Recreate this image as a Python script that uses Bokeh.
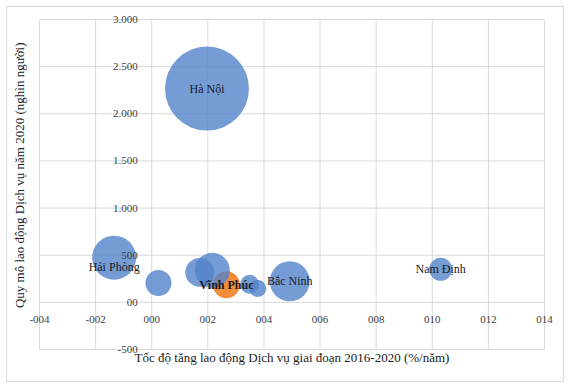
from bokeh.plotting import figure
from bokeh.models import ColumnDataSource, Range1d, Title
from bokeh.core.properties import value
from bokeh.embed import file_html
from bokeh.resources import INLINE

# ---- data ----
provinces = ["Hà Nội", "Hải Phòng", "Tỉnh A", "Tỉnh B", "Vĩnh Phúc", "Tỉnh C",
             "Tỉnh D", "Tỉnh E", "Bắc Ninh", "Nam Định"]
growth = [0.0197, -0.0134, 0.0024, 0.0171, 0.0266, 0.0216, 0.0349, 0.0378, 0.0492, 0.1030]
labour = [2267, 474, 205, 318, 186, 339, 191, 148, 223, 350]
bubble_value = [1000, 274, 96, 119, 103, 174, 51, 41, 227, 75]
labelled = ["Hà Nội", "Hải Phòng", "Vĩnh Phúc", "Bắc Ninh", "Nam Định"]
highlight = "Vĩnh Phúc"

x_ticks = [-0.04, -0.02, 0.0, 0.02, 0.04, 0.06, 0.08, 0.10, 0.12, 0.14]
x_tick_labels = ["-004", "-002", "000", "002", "004", "006", "008", "010", "012", "014"]
y_ticks = [-500, 0, 500, 1000, 1500, 2000, 2500, 3000]
y_tick_labels = ["-500", "00", "500", "1.000", "1.500", "2.000", "2.500", "3.000"]

x_title = "Tốc độ tăng lao động Dịch vụ giai đoạn 2016-2020 (%/năm)"
y_title = "Quy mô lao động Dịch vụ năm 2020 (nghìn người)"

# ---- styling / layout ----
FONT = "Liberation Serif"
BLUE = "#5283C9"
ORANGE = "#F0822A"
GRID = "#D9D9D9"
MAX_DIAM = 84
GRID_W, GRID_H = 505, 330      # pixel size of the gridded area
PAD_X, PAD_Y = 12, 7           # extra frame room so edge tick labels are not clipped

x0, x1 = x_ticks[0], x_ticks[-1]
y0, y1 = y_ticks[0], y_ticks[-1]
px = (x1 - x0) / GRID_W * PAD_X
py = (y1 - y0) / GRID_H * PAD_Y

colors = [ORANGE if n == highlight else BLUE for n in provinces]
alphas = [0.92 if n == highlight else 0.8 for n in provinces]
diam = [MAX_DIAM * (v / max(bubble_value)) ** 0.5 for v in bubble_value]

src = ColumnDataSource(dict(x=growth, y=labour, name=provinces, c=colors, a=alphas, d=diam))

p = figure(width=558, height=376, output_backend="svg", toolbar_location=None,
           x_range=Range1d(x0 - px, x1 + px), y_range=Range1d(y0 - py, y1 + py),
           min_border_left=20, min_border_right=9, min_border_top=5, min_border_bottom=27)
p.styles = {"border": "1px solid #D9D9D9", "margin-left": "6px", "margin-top": "6px"}
p.background_fill_color = "white"
p.outline_line_color = None
p.grid.visible = False

# grid lines limited to the tick extent
p.segment(x0=x_ticks, y0=[y0] * len(x_ticks), x1=x_ticks, y1=[y1] * len(x_ticks),
          line_color=GRID, line_width=1)
p.segment(x0=[x0] * len(y_ticks), y0=y_ticks, x1=[x1] * len(y_ticks), y1=y_ticks,
          line_color=GRID, line_width=1)

p.scatter("x", "y", size="d", source=src, fill_color="c", fill_alpha="a", line_color=None)

lab_norm = [i for i, n in enumerate(provinces) if n in labelled and n != highlight]
lab_bold = [i for i, n in enumerate(provinces) if n == highlight]
dy = {"Hải Phòng": 9}
for idxs, style in ((lab_norm, "normal"), (lab_bold, "bold")):
    s = ColumnDataSource(dict(x=[growth[i] for i in idxs], y=[labour[i] for i in idxs],
                              t=[provinces[i] for i in idxs],
                              oy=[dy.get(provinces[i], 0) for i in idxs]))
    p.text("x", "y", text="t", source=s, y_offset="oy", text_align="center",
           text_baseline="middle", text_font=value(FONT), text_font_size="12px",
           text_font_style=style, text_color="#1a1a1a")

for ax, ticks, labels in ((p.xaxis, x_ticks, x_tick_labels), (p.yaxis, y_ticks, y_tick_labels)):
    ax.fixed_location = 0
    ax.ticker = ticks
    ax.major_label_overrides = dict(zip(ticks, labels))
    ax.axis_line_color = None
    ax.major_tick_line_color = None
    ax.minor_tick_line_color = None
    ax.major_label_text_font = FONT
    ax.major_label_text_font_size = "11px"
    ax.major_label_text_color = "#404040"
    ax.major_label_standoff = 8

p.add_layout(Title(text=x_title, align="center", vertical_align="top", standoff=-14,
                   text_font=FONT, text_font_size="13px", text_font_style="normal",
                   text_color="#222222"), "below")
p.add_layout(Title(text=y_title, align="right", offset=30, vertical_align="middle", standoff=0,
                   text_font=FONT, text_font_size="13px", text_font_style="normal",
                   text_color="#222222"), "left")

open("out.html", "w").write(file_html(p, INLINE))
